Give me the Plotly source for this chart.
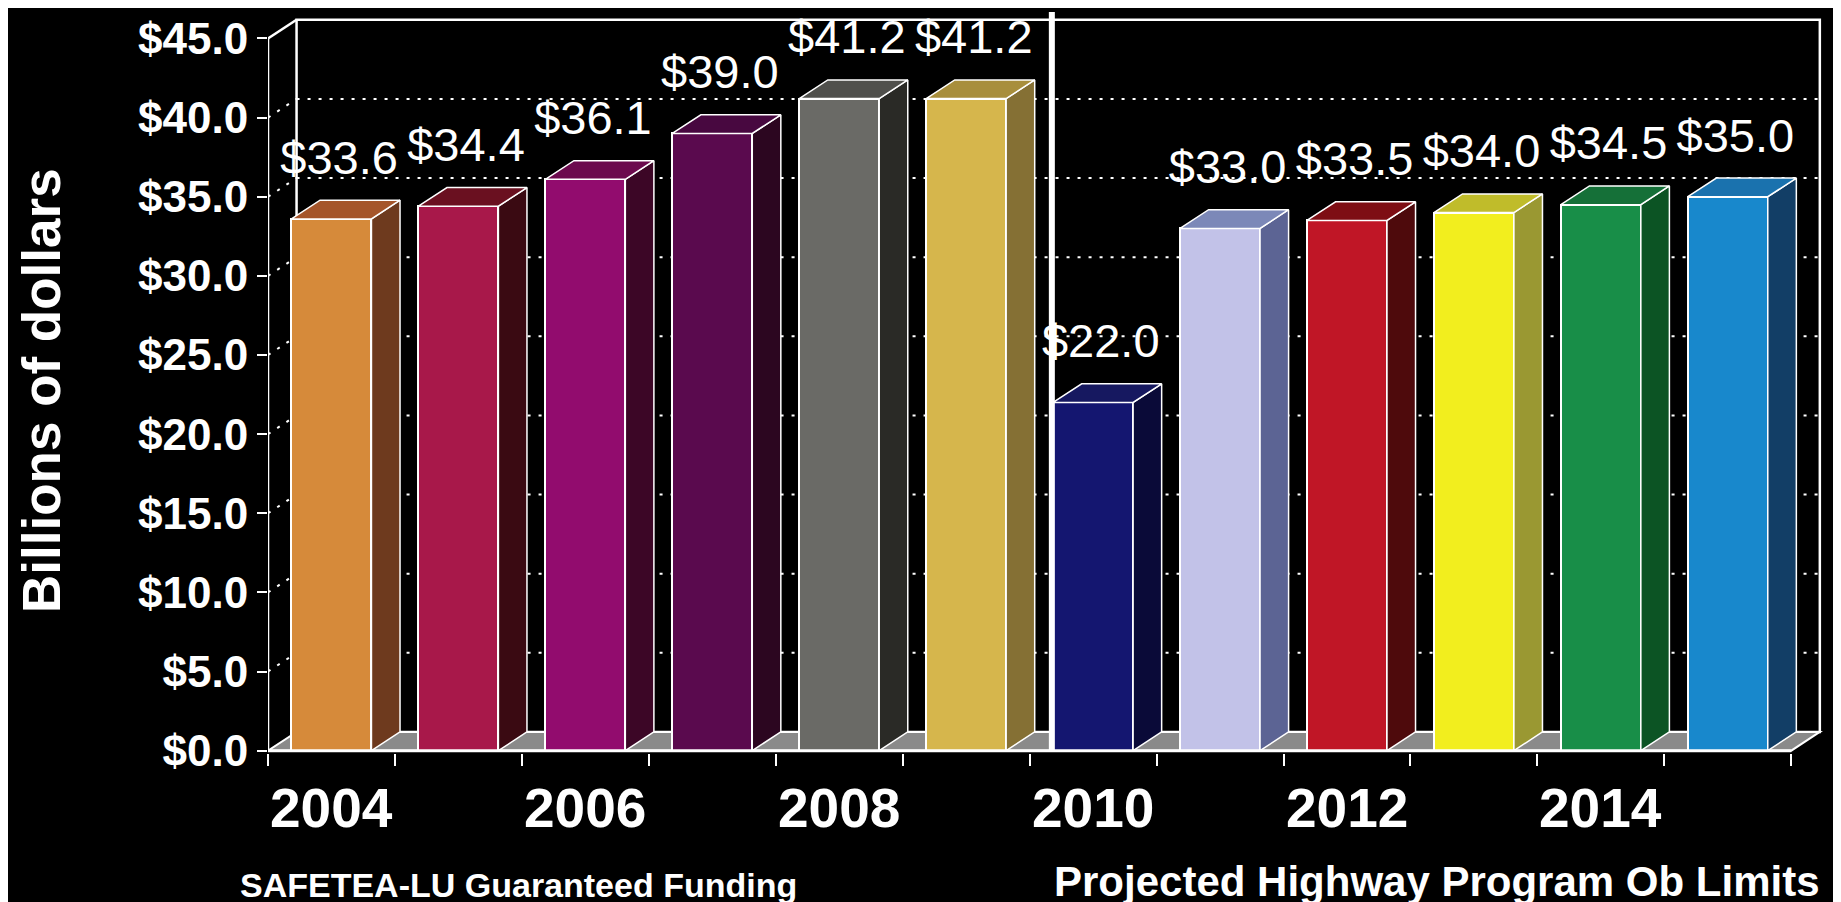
import plotly.graph_objects as go

# ---------------- data ----------------
years = [2004, 2005, 2006, 2007, 2008, 2009, 2010, 2011, 2012, 2013, 2014, 2015]
values = [33.6, 34.4, 36.1, 39.0, 41.2, 41.2, 22.0, 33.0, 33.5, 34.0, 34.5, 35.0]
year_labels = [str(y) if y % 2 == 0 else "" for y in years]
y_ticks = [0, 5, 10, 15, 20, 25, 30, 35, 40, 45]
y_tick_labels = ["$%.1f" % v for v in y_ticks]
value_labels = ["$%.1f" % v for v in values]
y_title = "Billions of dollars"
group_titles = ["SAFETEA-LU Guaranteed Funding", "Projected Highway Program Ob Limits"]
split_after = 2009  # separator between funding periods

# ---------------- styles ----------------
front_colors = ["#D68A3A", "#A8184A", "#920C6E", "#5A0A4E", "#6A6A66", "#D6B64C",
                "#141670", "#C2C2E8", "#C01626", "#F2EE1E", "#188E48", "#1888CC"]
side_colors = ["#6E3A1E", "#3A0A12", "#3C0626", "#2C0620", "#2A2A26", "#857034",
               "#0A0A38", "#5C6494", "#4E0A0C", "#9A9832", "#0C5424", "#123E66"]
top_colors = ["#A5552A", "#6A1020", "#6C0A4E", "#480840", "#50504C", "#A88E3C",
              "#161860", "#7C88B8", "#7E0E14", "#C0BC2A", "#157038", "#1A72AE"]

W, H = 1841, 902
L, R, T, B = 260, 26, 2, 157
DX, DY = 0.225, 1.18        # pseudo-3D depth offsets (category units, $ units)
BAR_W = 0.63
LABEL_LIFT = 3.6
XR = [-0.5, 11.75]
YR = [-0.15, 46.8]
FONT = "Liberation Sans, Arial, sans-serif"
WHITE = "white"


def paper_x(px):
    return (px - L) / (W - L - R)


def paper_y(py):
    return (H - B - py) / (H - T - B)


n = len(years)
xs = list(range(n))
x_lo, x_hi = -0.5, n - 0.5
y_top = y_ticks[-1]

fig = go.Figure()

# front faces of bars
fig.add_trace(go.Bar(
    x=xs, y=values, width=BAR_W,
    marker=dict(color=front_colors, line=dict(color=WHITE, width=2)),
    hoverinfo="skip", showlegend=False,
))

# side and top faces
hw = BAR_W / 2
for i, v in enumerate(values):
    xr = i + hw
    xl = i - hw
    fig.add_trace(go.Scatter(
        x=[xr, xr + DX, xr + DX, xr, xr], y=[0, DY, v + DY, v, 0],
        mode="lines", fill="toself", fillcolor=side_colors[i],
        line=dict(color=WHITE, width=1.5), hoverinfo="skip", showlegend=False))
    fig.add_trace(go.Scatter(
        x=[xl, xr, xr + DX, xl + DX, xl], y=[v, v, v + DY, v + DY, v],
        mode="lines", fill="toself", fillcolor=top_colors[i],
        line=dict(color=WHITE, width=1.5), hoverinfo="skip", showlegend=False))

# value labels
fig.add_trace(go.Scatter(
    x=[i + 0.06 for i in xs], y=[v + LABEL_LIFT for v in values], mode="text",
    text=value_labels, textposition="middle center",
    textfont=dict(family=FONT, size=47, color=WHITE),
    cliponaxis=False, hoverinfo="skip", showlegend=False))

# separator between the two periods
sep_x = years.index(split_after) + 0.5 + 0.175
fig.add_trace(go.Scatter(
    x=[sep_x, sep_x], y=[0, y_top + DY + 0.5], mode="lines",
    line=dict(color=WHITE, width=6), hoverinfo="skip", showlegend=False))

# ---------------- walls / floor / grid (shapes) ----------------
shapes = []
# back wall
shapes.append(dict(type="rect", xref="x", yref="y", x0=x_lo + DX, x1=x_hi + DX,
                   y0=DY, y1=y_top + DY, line=dict(color=WHITE, width=2.5),
                   fillcolor="black", layer="below"))
# floor
shapes.append(dict(type="path", xref="x", yref="y",
                   path=f"M {x_lo},0 L {x_hi},0 L {x_hi + DX},{DY} L {x_lo + DX},{DY} Z",
                   fillcolor="#8A8A8A", line=dict(color=WHITE, width=2), layer="below"))
# gridlines (back wall + left wall)
for v in y_ticks[1:-1]:
    shapes.append(dict(type="line", xref="x", yref="y", x0=x_lo + DX, x1=x_hi + DX,
                       y0=v + DY, y1=v + DY,
                       line=dict(color=WHITE, width=2, dash="3px,8px"), layer="below"))
    shapes.append(dict(type="line", xref="x", yref="y", x0=x_lo, x1=x_lo + DX,
                       y0=v, y1=v + DY,
                       line=dict(color=WHITE, width=2, dash="3px,8px"), layer="below"))
# left wall top edge and front vertical axis
shapes.append(dict(type="line", xref="x", yref="y", x0=x_lo, x1=x_lo + DX,
                   y0=y_top, y1=y_top + DY, line=dict(color=WHITE, width=2.5), layer="below"))
shapes.append(dict(type="line", xref="x", yref="y", x0=x_lo, x1=x_lo,
                   y0=0, y1=y_top, line=dict(color=WHITE, width=2.5), layer="below"))
# front base line
shapes.append(dict(type="line", xref="x", yref="y", x0=x_lo, x1=x_hi,
                   y0=0, y1=0, line=dict(color=WHITE, width=3), layer="above"))

# ---------------- annotations ----------------
ann = []
ann.append(dict(text=y_title, xref="paper", yref="paper", x=paper_x(33), y=paper_y(383),
                textangle=-90, showarrow=False, xanchor="center", yanchor="middle",
                font=dict(family=FONT, size=53, color=WHITE, weight="bold")))
for i, lab in enumerate(year_labels):
    if lab:
        ann.append(dict(text=lab, xref="x", yref="paper", x=i, y=paper_y(800),
                        showarrow=False, xanchor="center", yanchor="middle",
                        font=dict(family=FONT, size=55, color=WHITE, weight="bold")))
ann.append(dict(text=group_titles[0], xref="paper", yref="paper", x=paper_x(230),
                y=paper_y(877), showarrow=False, xanchor="left", yanchor="middle",
                font=dict(family=FONT, size=34, color=WHITE, weight="bold")))
ann.append(dict(text=group_titles[1], xref="paper", yref="paper", x=paper_x(1044),
                y=paper_y(874), showarrow=False, xanchor="left", yanchor="middle",
                font=dict(family=FONT, size=42, color=WHITE, weight="bold")))

fig.update_layout(
    width=W, height=H,
    margin=dict(l=L, r=R, t=T, b=B, pad=0),
    paper_bgcolor="black", plot_bgcolor="black",
    shapes=shapes, annotations=ann,
    bargap=0, showlegend=False,
    xaxis=dict(range=XR, tickmode="array",
               tickvals=[k - 0.5 for k in range(n + 1)],
               ticktext=["" for _ in range(n + 1)],
               ticks="outside", ticklen=12, tickwidth=2, tickcolor=WHITE,
               showgrid=False, zeroline=False, showline=False, fixedrange=True),
    yaxis=dict(range=YR, tickmode="array", tickvals=y_ticks, ticktext=y_tick_labels,
               ticks="outside", ticklen=10, tickwidth=2, tickcolor=WHITE,
               tickfont=dict(family=FONT, size=44, color=WHITE, weight="bold"),
               showgrid=False, zeroline=False, showline=False, fixedrange=True),
)

fig.write_html("out.html")
